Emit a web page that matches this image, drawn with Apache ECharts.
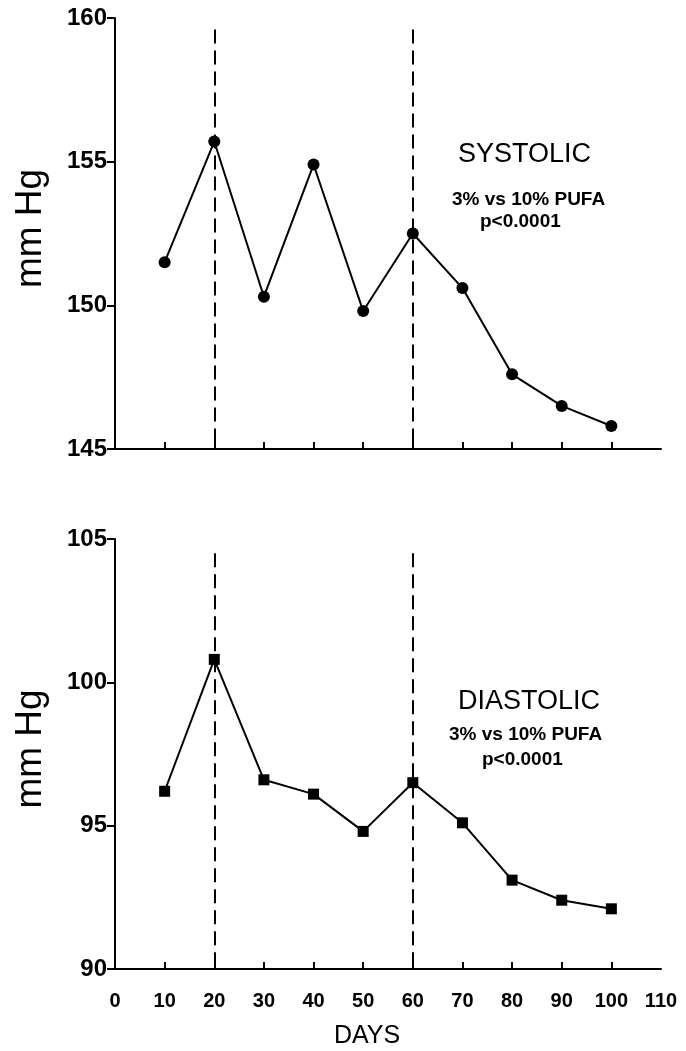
<!DOCTYPE html>
<html>
<head>
<meta charset="utf-8">
<script src="https://cdn.jsdelivr.net/npm/echarts@6/dist/echarts.min.js"></script>
<style>
html,body{margin:0;padding:0;background:#fff;}
#chart{width:686px;height:1051px;}
</style>
</head>
<body>
<div id="chart"></div>
<script>
// ---- data ----
var days = [10, 20, 30, 40, 50, 60, 70, 80, 90, 100];
var systolic = [151.5, 155.7, 150.3, 154.9, 149.8, 152.5, 150.6, 147.6, 146.5, 145.8];
var diastolic = [96.2, 100.8, 96.6, 96.1, 94.8, 96.5, 95.1, 93.1, 92.4, 92.1];
var xTickLabels = [0, 10, 20, 30, 40, 50, 60, 70, 80, 90, 100, 110];
var xTickMarks = [10, 20, 30, 40, 50, 60, 70, 80, 90, 100];
var sysTicks = [145, 150, 155, 160];
var diaTicks = [90, 95, 100, 105];
var dividerDays = [20, 60];
var sysTitle = 'SYSTOLIC';
var diaTitle = 'DIASTOLIC';
var compareText = '3% vs 10% PUFA';
var pText = 'p<0.0001';
var yName = 'mm Hg';
var xName = 'DAYS';

var FONT = '"Liberation Sans", Arial, Helvetica, sans-serif';
var INK = '#000';

function pairs(ys) { return days.map(function (d, i) { return [d, ys[i]]; }); }

function xAxisFor(gridIndex, showLabels) {
  return {
    type: 'value', gridIndex: gridIndex, min: 0, max: 110, interval: 10,
    axisLine: { show: true, onZero: false, lineStyle: { color: INK, width: 2 } },
    axisTick: { show: true, inside: true, length: 7, lineStyle: { color: INK, width: 2 }, customValues: xTickMarks },
    axisLabel: showLabels ? { show: true, color: INK, fontFamily: FONT, fontSize: 20, fontWeight: 'bold', margin: 22, customValues: xTickLabels } : { show: false },
    splitLine: { show: false },
    name: showLabels ? xName : '',
    nameLocation: 'middle', nameGap: 55,
    nameTextStyle: { color: INK, fontFamily: FONT, fontSize: 25, padding: [0, 42, 0, 0] }
  };
}

function yAxisFor(gridIndex, ticks) {
  return {
    type: 'value', gridIndex: gridIndex, min: ticks[0], max: ticks[ticks.length - 1], interval: ticks[1] - ticks[0],
    axisLine: { show: true, lineStyle: { color: INK, width: 2 } },
    axisTick: { show: true, inside: false, length: 8, lineStyle: { color: INK, width: 2 } },
    axisLabel: { color: INK, fontFamily: FONT, fontSize: 24, fontWeight: 'bold', margin: 8 },
    splitLine: { show: false },
    name: yName, nameLocation: 'middle', nameGap: 66, nameRotate: 90,
    nameTextStyle: { color: INK, fontFamily: FONT, fontSize: 37, padding: [0, 0, 0, 10] }
  };
}

function dividers(top, bottom) {
  return {
    silent: true, symbol: ['none', 'none'], label: { show: false },
    lineStyle: { color: INK, width: 2, type: [14, 7] },
    data: dividerDays.map(function (d) { return [{ coord: [d, top] }, { coord: [d, bottom] }]; })
  };
}

var chart = echarts.init(document.getElementById('chart'), null, { renderer: 'canvas' });
chart.setOption({
  backgroundColor: '#fff',
  animation: false,
  grid: [
    { left: 115, right: 25, top: 18, height: 431 },
    { left: 115, right: 25, top: 539, height: 430 }
  ],
  xAxis: [xAxisFor(0, false), xAxisFor(1, true)],
  yAxis: [yAxisFor(0, sysTicks), yAxisFor(1, diaTicks)],
  series: [
    {
      type: 'line', xAxisIndex: 0, yAxisIndex: 0, data: pairs(systolic),
      symbol: 'circle', symbolSize: 12, showAllSymbol: true,
      lineStyle: { color: INK, width: 2 }, itemStyle: { color: INK },
      markLine: dividers(159.6, 145), z: 3
    },
    {
      type: 'line', xAxisIndex: 1, yAxisIndex: 1, data: pairs(diastolic),
      symbol: 'rect', symbolSize: 11, showAllSymbol: true,
      lineStyle: { color: INK, width: 2 }, itemStyle: { color: INK },
      markLine: dividers(104.5, 90), z: 3
    }
  ],
  graphic: [
    { type: 'text', left: 458, top: 141, style: { text: sysTitle, fill: INK, font: '27px ' + FONT } },
    { type: 'text', left: 452, top: 190, style: { text: compareText, fill: INK, font: 'bold 19px ' + FONT } },
    { type: 'text', left: 480, top: 212, style: { text: pText, fill: INK, font: 'bold 19px ' + FONT } },
    { type: 'text', left: 458, top: 688, style: { text: diaTitle, fill: INK, font: '27px ' + FONT } },
    { type: 'text', left: 449, top: 725, style: { text: compareText, fill: INK, font: 'bold 19px ' + FONT } },
    { type: 'text', left: 482, top: 750, style: { text: pText, fill: INK, font: 'bold 19px ' + FONT } }
  ]
});
</script>
</body>
</html>
